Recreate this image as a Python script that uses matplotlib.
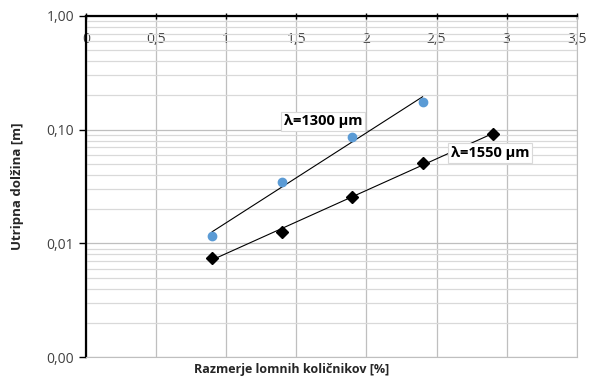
import matplotlib
matplotlib.use('Agg')
import matplotlib.pyplot as plt
import numpy as np
from matplotlib.ticker import FixedLocator, FuncFormatter, LogLocator, NullFormatter

plt.rcParams['font.family'] = ['Open Sans', 'DejaVu Sans']

# data
x_1300 = [0.9, 1.4, 1.9, 2.4]
y_1300 = [0.0115, 0.0344, 0.087, 0.176]
x_1550 = [0.9, 1.4, 1.9, 2.4, 2.9]
y_1550 = [0.0075, 0.0127, 0.0254, 0.0506, 0.092]
x_ticks = [0, 0.5, 1, 1.5, 2, 2.5, 3, 3.5]
y_ticks = [0.001, 0.01, 0.1, 1.0]

fig = plt.figure(figsize=(5.95, 3.8), dpi=100)
ax = fig.add_axes([0.1445, 0.0605, 0.825, 0.8975])
ax.set_yscale('log')
ax.set_xlim(0, 3.5)
ax.set_ylim(0.001, 1.0)

# exponential trend lines (fit in log space)
def trend(xs, ys):
    k, b = np.polyfit(xs, np.log10(ys), 1)
    xx = np.array([xs[0], xs[-1]])
    return xx, 10 ** (k * xx + b)

tx, ty = trend(x_1300, y_1300)
ax.plot(tx, ty, color='black', lw=0.8, zorder=3)
tx, ty = trend(x_1550, y_1550)
ax.plot(tx, ty, color='black', lw=0.8, zorder=3)

ax.plot(x_1300, y_1300, 'o', color='#5B9BD5', markersize=6, zorder=4)
ax.plot(x_1550, y_1550, 'D', color='black', markersize=6, zorder=4)

# grid
ax.xaxis.set_major_locator(FixedLocator(x_ticks))
ax.yaxis.set_major_locator(FixedLocator(y_ticks))
ax.yaxis.set_minor_locator(LogLocator(base=10, subs=np.arange(2, 10)))
ax.yaxis.set_minor_formatter(NullFormatter())
ax.grid(which='major', axis='both', color='#BFBFBF', lw=0.9)
ax.grid(which='minor', axis='y', color='#D9D9D9', lw=0.9)
ax.set_axisbelow(True)

ax.yaxis.set_major_formatter(FuncFormatter(lambda v, p: f'{v:.2f}'.replace('.', ',')))
ax.xaxis.set_major_formatter(FuncFormatter(lambda v, p: f'{v:g}'.replace('.', ',')))

# x axis sits at the top, labels drawn just under it
ax.xaxis.set_ticks_position('top')
ax.tick_params(axis='x', which='major', direction='inout', length=5, width=1,
               labeltop=True, labelbottom=False, pad=-25, labelsize=10,
               labelcolor='#404040')
ax.tick_params(axis='y', which='major', direction='out', length=5, width=1,
               labelsize=10, labelcolor='#404040')
ax.tick_params(axis='y', which='minor', length=0)

ax.spines['top'].set_linewidth(1.6)
ax.spines['left'].set_linewidth(1.6)
ax.spines['right'].set_color('#BFBFBF')
ax.spines['bottom'].set_color('#BFBFBF')

box = dict(boxstyle='square,pad=0.2', facecolor='white', edgecolor='#D9D9D9', lw=0.8)
ax.text(1.41, 0.118, 'λ=1300 µm', fontsize=10.5, fontweight='bold', ha='left',
        va='center', bbox=box, zorder=5)
ax.text(2.6, 0.062, 'λ=1550 µm', fontsize=10.5, fontweight='bold', ha='left',
        va='center', bbox=box, zorder=5)

fig.text(0.49, 0.028, 'Razmerje lomnih količnikov [%]', fontsize=9,
         fontweight='bold', ha='center', va='center', color='#262626')
fig.text(0.029, 0.51, 'Utripna dolžina [m]', fontsize=9.5, fontweight='bold',
         rotation=90, ha='center', va='center', color='#262626')

fig.savefig('out.png', dpi=100)
